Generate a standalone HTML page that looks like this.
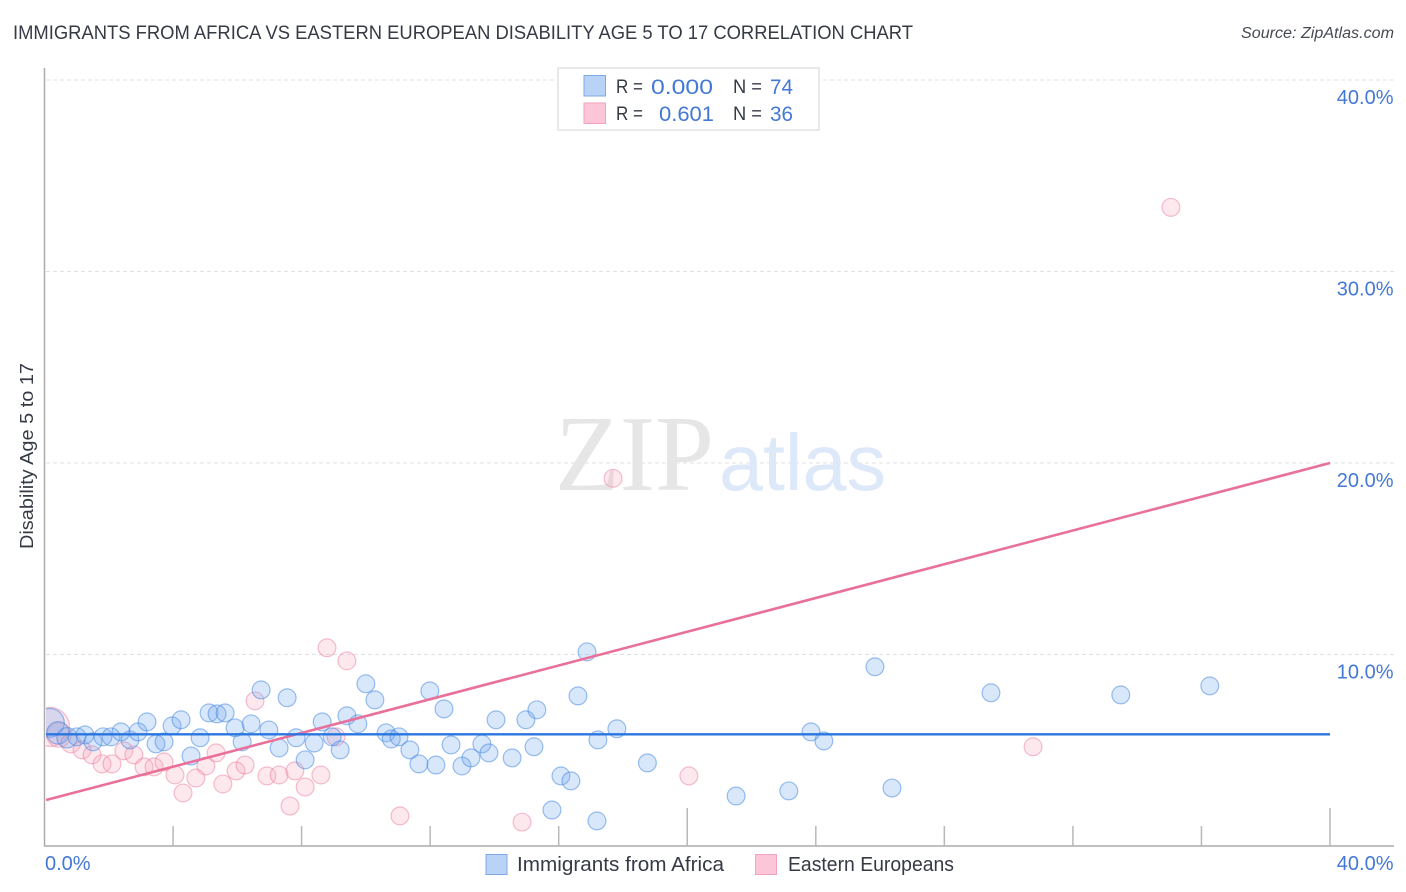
<!DOCTYPE html>
<html lang="en">
<head>
<meta charset="utf-8">
<title>Immigrants from Africa vs Eastern European Disability Age 5 to 17 Correlation Chart</title>
<style>
html,body{margin:0;padding:0;background:#fff;width:1406px;height:892px;overflow:hidden}
svg{display:block;font-family:"Liberation Sans",sans-serif}
</style>
</head>
<body>
<svg id="chart" xmlns="http://www.w3.org/2000/svg" width="1406" height="892" viewBox="0 0 1406 892">
  <defs><clipPath id="plot-clip"><rect x="46" y="60" width="1348" height="786"/></clipPath></defs>
  <rect x="0" y="0" width="1406" height="892" fill="#fff"/>
  <text x="13" y="39" font-size="19.5" fill="#353a45" textLength="900" lengthAdjust="spacingAndGlyphs">IMMIGRANTS FROM AFRICA VS EASTERN EUROPEAN DISABILITY AGE 5 TO 17 CORRELATION CHART</text>
  <text x="1241" y="38" font-size="15.5" font-style="italic" fill="#454a55" textLength="153" lengthAdjust="spacingAndGlyphs">Source: ZipAtlas.com</text>
  <text transform="translate(33,549) rotate(-90)" font-size="18.5" fill="#353a45" textLength="186" lengthAdjust="spacingAndGlyphs">Disability Age 5 to 17</text>
  <g id="grid"></g>
  <g>
    <text x="555" y="490" font-family="'Liberation Serif',serif" font-size="108" fill="#e6e6e6" textLength="159" lengthAdjust="spacingAndGlyphs">ZIP</text>
    <text x="719" y="490" font-size="80" fill="#dde8f9" textLength="167" lengthAdjust="spacingAndGlyphs">atlas</text>
  </g>
  <g id="axes"></g>
  <g id="points" clip-path="url(#plot-clip)"></g>
  <g id="trends"></g>
  <g id="labels"></g>

  <g>
    <rect x="558" y="68" width="261" height="62" fill="#fff" stroke="#e2e2e2" stroke-width="1.5"/>
    <rect x="584" y="75.5" width="21.5" height="20.5" fill="#b9d3f7" stroke="#7fa9e6" stroke-width="1"/>
    <rect x="584" y="103" width="21.5" height="20.5" fill="#fcc6d8" stroke="#f3a3bb" stroke-width="1"/>
    <text x="616" y="93" font-size="19" fill="#353a45" textLength="27" lengthAdjust="spacingAndGlyphs">R =</text>
    <text x="651" y="94" font-size="21" fill="#4478d6" textLength="62" lengthAdjust="spacingAndGlyphs">0.000</text>
    <text x="733" y="93" font-size="19" fill="#353a45" textLength="29" lengthAdjust="spacingAndGlyphs">N =</text>
    <text x="770" y="94" font-size="21" fill="#4478d6" textLength="23" lengthAdjust="spacingAndGlyphs">74</text>
    <text x="616" y="120" font-size="19" fill="#353a45" textLength="27" lengthAdjust="spacingAndGlyphs">R =</text>
    <text x="659" y="121" font-size="21" fill="#4478d6" textLength="55" lengthAdjust="spacingAndGlyphs">0.601</text>
    <text x="733" y="120" font-size="19" fill="#353a45" textLength="29" lengthAdjust="spacingAndGlyphs">N =</text>
    <text x="770" y="121" font-size="21" fill="#4478d6" textLength="23" lengthAdjust="spacingAndGlyphs">36</text>
  </g>

  <g>
    <rect x="486" y="854.5" width="21" height="20" fill="#b9d3f7" stroke="#7fa9e6" stroke-width="1"/>
    <text x="517" y="871" font-size="20" fill="#353a45" textLength="207" lengthAdjust="spacingAndGlyphs">Immigrants from Africa</text>
    <rect x="755.5" y="854.5" width="21" height="20" fill="#fcc6d8" stroke="#f3a3bb" stroke-width="1"/>
    <text x="788" y="871" font-size="20" fill="#353a45" textLength="166" lengthAdjust="spacingAndGlyphs">Eastern Europeans</text>
  </g>
</svg>
<script>
const xTickValues = [0, 4, 8, 12, 16, 20, 24, 28, 32, 36, 40];
const xMajorTicks = [20, 40];
const xLabelValues = ['0.0%', '40.0%'];
const yTickValues = [10, 20, 30, 40];
const yTickLabels = ['10.0%', '20.0%', '30.0%', '40.0%'];

const blueX = [0.17,0.42,0.70,1.01,1.26,1.51,1.82,2.07,2.38,2.66,2.91,3.19,3.47,3.72,3.97,4.25,4.56,4.84,5.12,5.37,5.62,5.93,6.15,6.43,6.74,6.98,7.30,7.55,7.83,8.11,8.39,8.64,8.95,9.20,9.41,9.75,10.00,10.28,10.63,10.79,11.03,11.37,11.65,12.18,12.65,12.99,13.27,13.61,13.83,14.55,11.99,12.43,14.05,14.98,15.32,15.23,16.07,16.38,15.79,17.19,16.60,16.88,17.22,17.81,18.76,21.52,23.16,23.85,24.25,25.84,26.37,29.45,33.49,36.26];
const blueY = [6.43,5.91,5.65,5.70,5.80,5.44,5.70,5.70,5.96,5.54,5.96,6.48,5.33,5.44,6.27,6.59,4.70,5.65,6.95,6.90,6.95,6.17,5.44,6.38,8.15,6.06,5.12,7.74,5.65,4.50,5.38,6.48,5.70,5.02,6.80,6.38,8.47,7.63,5.91,5.59,5.70,5.02,4.29,4.23,5.28,4.18,4.60,5.33,4.86,4.60,8.10,7.16,6.59,6.59,7.11,5.18,3.66,3.40,1.88,1.31,7.84,10.14,5.54,6.12,4.34,2.61,2.88,5.96,5.49,9.36,3.03,8.00,7.89,8.36];
const blueWeight = [2.6,1.6,1.3];

const pinkX = [0.17,0.45,0.82,1.17,1.48,1.79,2.10,2.47,2.78,3.10,3.41,3.72,4.06,4.31,4.71,5.02,5.34,5.55,5.96,6.24,6.55,6.92,7.30,7.79,7.64,8.11,8.60,8.79,9.07,9.41,11.06,14.86,17.69,20.05,30.76,35.05];
const pinkY = [6.22,5.80,5.38,5.02,4.76,4.29,4.29,4.97,4.76,4.13,4.13,4.39,3.71,2.77,3.55,4.18,4.86,3.24,3.92,4.23,7.58,3.66,3.71,3.92,2.09,3.08,3.71,10.35,5.70,9.67,1.57,1.25,19.2,3.66,5.18,33.35];
const pinkWeight = [4.8,1.9,1.2];

const blueTrendX = [0.05, 40];
const blueTrendY = [5.83, 5.83];
const pinkTrendX = [0.05, 40];
const pinkTrendY = [2.4, 20];

const NS = 'http://www.w3.org/2000/svg';
function xScale(v) { return 44.5 + v * (1330 - 44.5) / 40; }
function yScale(v) { return 846 - v * (846 - 80) / 40; }
function make(tag, parentId, attrs, text) {
  const el = document.createElementNS(NS, tag);
  Object.keys(attrs).forEach(function (k) { el.setAttribute(k, attrs[k]); });
  if (text !== undefined) el.textContent = text;
  document.getElementById(parentId).appendChild(el);
  return el;
}

yTickValues.forEach(function (v) {
  const line = make('line', 'grid', { x1: 46, x2: 1394, y1: yScale(v), y2: yScale(v), stroke: '#e0e0e0', 'stroke-width': 1, 'stroke-dasharray': '4 3' });
  
  
});

const yAxis = make('line', 'axes', { x1: 44.5, x2: 44.5, y1: 68, y2: 846, stroke: '#ababab', 'stroke-width': 1.5 });


const xAxis = make('line', 'axes', { x1: 44, x2: 1394, y1: 846, y2: 846, stroke: '#ababab', 'stroke-width': 1.5 });


xTickValues.slice(1).forEach(function (v) {
  const top = xMajorTicks.indexOf(v) >= 0 ? 808 : 826;
  const tick = make('line', 'axes', { x1: xScale(v), x2: xScale(v), y1: top, y2: 846, stroke: '#b8b8b8', 'stroke-width': 1.5 });
  
  
});

function drawSeries(xs, ys, weights, fill, stroke) {
  xs.forEach(function (xv, i) {
    const w = i < weights.length ? weights[i] : 1;
    const dot = make('circle', 'points', { cx: xScale(xv), cy: yScale(ys[i]), r: 8.9 * Math.sqrt(w), fill: fill, stroke: stroke, 'stroke-width': 1.2 });
    
    
  });
}
drawSeries(pinkX, pinkY, pinkWeight, 'rgba(248,165,188,0.26)', 'rgba(236,125,158,0.5)');
drawSeries(blueX, blueY, blueWeight, 'rgba(115,168,238,0.27)', 'rgba(65,135,225,0.52)');

const pinkLine = make('line', 'trends', { x1: xScale(pinkTrendX[0]), x2: xScale(pinkTrendX[1]), y1: yScale(pinkTrendY[0]), y2: yScale(pinkTrendY[1]), stroke: '#e8709a', 'stroke-width': 2.6 });


const blueLine = make('line', 'trends', { x1: xScale(blueTrendX[0]), x2: xScale(blueTrendX[1]), y1: yScale(blueTrendY[0]), y2: yScale(blueTrendY[1]), stroke: '#2a76e0', 'stroke-width': 2.4 });



yTickValues.forEach(function (v, i) {
  const label = make('text', 'labels', { x: 1393.5, y: yScale(v) + 24, 'text-anchor': 'end', 'font-size': 20, fill: '#4478d6' }, yTickLabels[i]);
  
  
});
const xLabelStart = make('text', 'labels', { x: 45, y: 870, 'font-size': 20, fill: '#4478d6' }, xLabelValues[0]);


const xLabelEnd = make('text', 'labels', { x: 1393.5, y: 870, 'text-anchor': 'end', 'font-size': 20, fill: '#4478d6' }, xLabelValues[1]);


</script>
</body>
</html>
